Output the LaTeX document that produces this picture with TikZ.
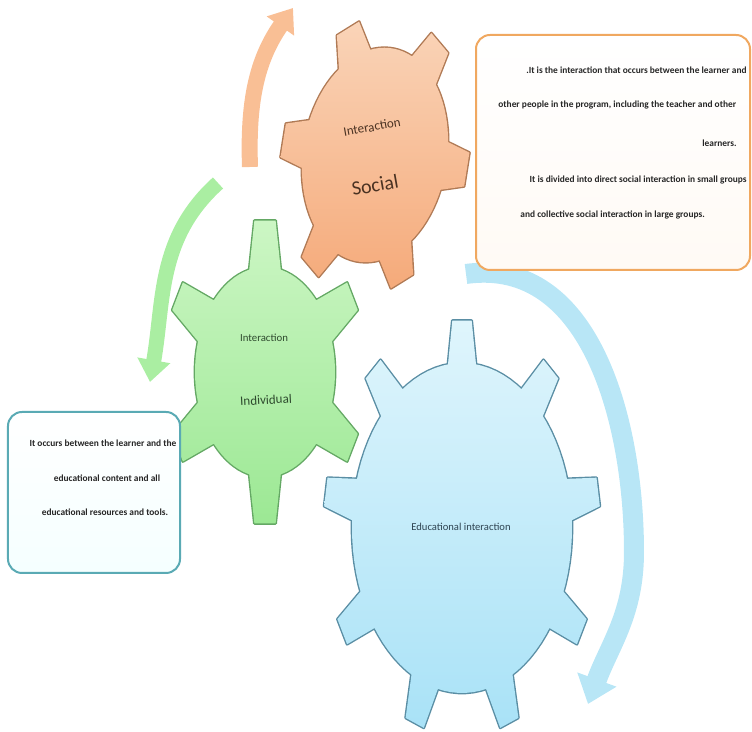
\documentclass[tikz,border=0pt]{standalone}
\usepackage{fontspec}
\setmainfont{Carlito}
\usepackage{tikz}
\usetikzlibrary{arrows.meta}
\definecolor{socialtop}{HTML}{FAD4B8}
\definecolor{socialbottom}{HTML}{F5AA7A}
\definecolor{socialedge}{HTML}{B07A55}
\definecolor{socialtext}{HTML}{4A3222}
\definecolor{indtop}{HTML}{CCF6C4}
\definecolor{indbottom}{HTML}{9CE894}
\definecolor{indedge}{HTML}{64A864}
\definecolor{indtext}{HTML}{2E4A2E}
\definecolor{edutop}{HTML}{DFF5FC}
\definecolor{edubottom}{HTML}{A9E2F7}
\definecolor{eduedge}{HTML}{5A8EA4}
\definecolor{edutext}{HTML}{2E4452}
\definecolor{socialarrow}{HTML}{F9BF95}
\definecolor{indarrow}{HTML}{AAEEA2}
\definecolor{eduarrow}{HTML}{B8E6F6}
\definecolor{socialframe}{HTML}{F0A860}
\definecolor{indframe}{HTML}{5AAAB4}
\tikzset{>=latex}
\tikzset{
  gearline/.style={line width=1.4pt, line join=round},
  turn/.style={line width=8pt, -{Triangle[width=16pt,length=11pt]}},
  notebox/.style={rounded corners=7pt, line width=1pt, inner sep=0pt},
  boxtext/.style={font=\fontsize{4.7}{5}\selectfont\bfseries, inner sep=0pt, text=black!85},
}
% ellipse body + teeth: angles, tooth length, tip and base half angle
\newcommand{\gearpath}[4]{plot[domain=0:356, samples=90] (\x:1) -- cycle
  foreach \t in {#1}{(\t-#4:0.96) -- (\t-#3:1+#2) -- (\t+#3:1+#2) -- (\t+#4:0.96) -- cycle}}

\begin{document}
\begin{tikzpicture}[x=0.5pt, y=0.5pt]
\useasboundingbox (0,0) rectangle (752,732);

% turning arrows
\coordinate (socialtail) at (250,565);
\coordinate (socialtip) at (293,724);
\coordinate (indtail) at (218,549);
\coordinate (indtip) at (150,350);
\coordinate (edutail) at (466,458);
\coordinate (edubend) at (634,180);
\coordinate (edutip) at (588,28);
\draw[turn, socialarrow] (socialtail) to[out=92, in=235] (socialtip);
\draw[turn, indarrow, line width=7.5pt] (indtail) to[out=222, in=80] (indtip);
\draw[turn, eduarrow, line width=10pt, -{Triangle[width=20pt,length=13pt]}]
  (edutail) to[out=8, in=90] (edubend) to[out=-90, in=70] (edutip);

% social gear
\begin{scope}[shift={(375,577)}, rotate=-9, xscale=72, yscale=108]
  \draw[gearline, socialedge] \gearpath{0,60,120,180,240,300}{0.3}{7}{14};
  \shade[top color=socialtop, bottom color=socialbottom] \gearpath{0,60,120,180,240,300}{0.3}{7}{14};
\end{scope}

% individual gear
\begin{scope}[shift={(265,360)}, xscale=70, yscale=105]
  \draw[gearline, indedge] \gearpath{30,90,150,210,270,330}{0.45}{6}{14};
  \shade[top color=indtop, bottom color=indbottom] \gearpath{30,90,150,210,270,330}{0.45}{6}{14};
\end{scope}

% educational gear
\begin{scope}[shift={(462,204)}, xscale=110, yscale=165]
  \draw[gearline, eduedge] \gearpath{10,50,90,130,170,210,250,290,330}{0.26}{4}{8};
  \shade[top color=edutop, bottom color=edubottom] \gearpath{10,50,90,130,170,210,250,290,330}{0.26}{4}{8};
\end{scope}

% gear labels
\node[font=\fontsize{6.5}{7}\selectfont, text=socialtext, rotate=10] (socialtop) at (372,605) {Interaction};
\node[font=\fontsize{10}{11}\selectfont, text=socialtext, rotate=10] (socialname) at (375,547) {Social};
\node[font=\fontsize{5.4}{6}\selectfont, text=indtext] (indtop) at (264,394) {Interaction};
\node[font=\fontsize{6.5}{7}\selectfont, text=indtext, rotate=3] (indname) at (266,332) {Individual};
\node[font=\fontsize{5.3}{6}\selectfont, text=edutext] (eduname) at (461,205) {Educational interaction};

% note boxes
\node[notebox, draw=socialframe, top color=white, bottom color=orange!4,
  minimum width=137pt, minimum height=117.5pt] (socialbox) at (613,579.5) {};
\node[notebox, draw=indframe, top color=white, bottom color=cyan!4,
  minimum width=86pt, minimum height=80.5pt] (indbox) at (94,239.5) {};

\node[boxtext, anchor=east] (social1) at (747,662) {.It is the interaction that occurs between the learner and};
\node[boxtext, anchor=west] (social2) at (498,627) {other people in the program, including the teacher and other};
\node[boxtext, anchor=west] (social3) at (702,589) {learners.};
\node[boxtext, anchor=east] (social4) at (747,552) {It is divided into direct social interaction in small groups};
\node[boxtext, anchor=west] (social5) at (520,517) {and collective social interaction in large groups.};

\node[boxtext] (ind1) at (103,289) {It occurs between the learner and the};
\node[boxtext] (ind2) at (107,254) {educational content and all};
\node[boxtext] (ind3) at (105,220) {educational resources and tools.};
\end{tikzpicture}
\end{document}
